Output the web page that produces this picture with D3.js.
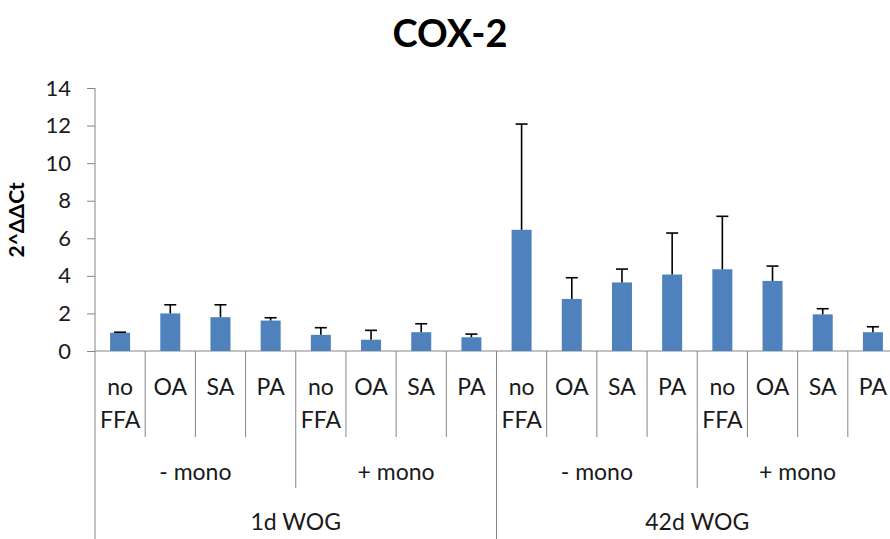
<!DOCTYPE html>
<html><head><meta charset="utf-8">
<script src="https://cdn.jsdelivr.net/npm/d3@7"></script>
<style>body{margin:0;background:#fff;overflow:hidden}svg{display:block}</style>
</head><body>
<svg id="c" width="890" height="539"></svg>
<script>
const categories = ["no FFA","OA","SA","PA","no FFA","OA","SA","PA","no FFA","OA","SA","PA","no FFA","OA","SA","PA"];
const monoGroups = ["- mono","+ mono","- mono","+ mono"];
const wogGroups = ["1d WOG","42d WOG"];
const values = [0.97,2.0,1.8,1.62,0.86,0.6,1.0,0.73,6.45,2.77,3.65,4.07,4.35,3.73,1.95,1.0];
const errors = [0.03,0.46,0.66,0.15,0.38,0.5,0.45,0.17,5.63,1.13,0.71,2.21,2.82,0.79,0.3,0.29];
const yTicks = [0,2,4,6,8,10,12,14];

const svg = d3.select("#c");
const font = "Lato, 'Open Sans', sans-serif";
const axisColor = "#868686";
const textColor = "#1a1a1a";
const x = d3.scaleBand().domain(d3.range(categories.length)).range([95, 898]).paddingInner(0).paddingOuter(0);
const y = d3.scaleLinear().domain([0,14]).range([351, 88]);
const bw = x.bandwidth();

// title
svg.append("text").attr("x",450).attr("y",47).attr("text-anchor","middle")
  .attr("font-family",font).attr("font-weight","bold").attr("font-size",38).attr("fill","#000").text("COX-2");

// y axis
const yAxis = svg.append("g").attr("transform","translate(95,0)")
  .call(d3.axisLeft(y).tickValues(yTicks).tickSize(8).tickPadding(16));
yAxis.select(".domain").remove();
yAxis.selectAll(".tick line").attr("stroke",axisColor);
yAxis.selectAll(".tick text").attr("font-family",font).attr("font-size",22).attr("fill",textColor);
svg.append("line").attr("x1",95).attr("x2",95).attr("y1",y(14)).attr("y2",539).attr("stroke",axisColor);

svg.append("text").attr("transform","translate(24,220) rotate(-90)").attr("text-anchor","middle")
  .attr("font-family",font).attr("font-weight","bold").attr("font-size",21).attr("fill","#000").text("2^ΔΔCt");

// baseline
svg.append("line").attr("x1",95).attr("x2",898).attr("y1",y(0)).attr("y2",y(0)).attr("stroke",axisColor);

// bars
svg.selectAll("rect.bar").data(values).join("rect").attr("class","bar")
  .attr("x",(d,i)=>x(i)+bw/2-10).attr("width",20)
  .attr("y",d=>y(d)).attr("height",d=>y(0)-y(d)).attr("fill","#4F81BD");

// error bars
const eg = svg.append("g").attr("stroke","#000").attr("stroke-width",1.6);
values.forEach((v,i)=>{
  const cx = x(i)+bw/2;
  eg.append("line").attr("x1",cx).attr("x2",cx).attr("y1",y(v)).attr("y2",y(v+errors[i]));
  eg.append("line").attr("x1",cx-6).attr("x2",cx+6).attr("y1",y(v+errors[i])).attr("y2",y(v+errors[i]));
});

// separators
for(let i=1;i<categories.length;i++){
  const xx = x(i);
  let y2 = 437;
  if(i%4===0) y2 = 488;
  if(i%8===0) y2 = 539;
  svg.append("line").attr("x1",xx).attr("x2",xx).attr("y1",y(0)).attr("y2",y2).attr("stroke",axisColor);
}

// category labels
categories.forEach((c,i)=>{
  const cx = x(i)+bw/2;
  const parts = c.split(" ");
  const t = svg.append("text").attr("text-anchor","middle").attr("font-family",font).attr("font-size",23).attr("fill",textColor);
  parts.forEach((p,j)=>{
    t.append("tspan").attr("x",cx).attr("y",395+j*33).text(p);
  });
});
monoGroups.forEach((g,k)=>{
  const cx = (x(k*4)+x(k*4+3)+bw)/2;
  svg.append("text").attr("x",cx).attr("y",480).attr("text-anchor","middle").attr("font-family",font).attr("font-size",23).attr("fill",textColor).text(g);
});
wogGroups.forEach((g,k)=>{
  const cx = (x(k*8)+x(k*8+7)+bw)/2;
  svg.append("text").attr("x",cx).attr("y",530).attr("text-anchor","middle").attr("font-family",font).attr("font-size",23).attr("fill",textColor).text(g);
});
</script>
</body></html>
